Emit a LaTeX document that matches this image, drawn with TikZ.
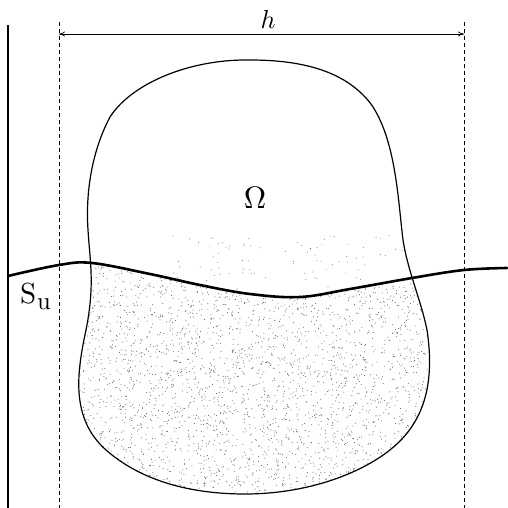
\documentclass[tikz,border=0pt]{standalone}
\usepackage{graphicx}
\usetikzlibrary{arrows.meta}
\tikzset{
  outline/.style={line width=1.2pt, line join=round},
  interface/.style={line width=2.6pt, line cap=round},
  guide/.style={line width=0.9pt, dash pattern=on 4pt off 3pt},
  wall/.style={line width=1.1pt},
  dimline/.style={line width=0.7pt, {To[length=6pt,width=5pt]}-{To[length=6pt,width=5pt]}},
  stip/.style={fill=black!65},
  lbl/.style={inner sep=0pt, anchor=base}
}
\begin{document}
\begin{tikzpicture}[x=1pt,y=-1pt]
\useasboundingbox (0,0) rectangle (507,508);
\def\shapepath{(250,60) .. controls (190,59) and (132,83) .. (110,117)
 .. controls (95,145) and (85,185) .. (88,230)
 .. controls (90,262) and (95,285) .. (86,330)
 .. controls (77,372) and (70,418) .. (106,450)
 .. controls (146,485) and (200,494) .. (245,494)
 .. controls (312,494) and (372,470) .. (401,440)
 .. controls (430,410) and (433,370) .. (427,330)
 .. controls (421,300) and (408,272) .. (403,240)
 .. controls (398,200) and (396,140) .. (371,104)
 .. controls (345,70) and (300,60) .. (250,60) -- cycle}
\def\curvepath{plot[smooth, tension=0.6] coordinates {
 (8,276) (59,265) (92,263) (150,274) (200,285) (250,294) (300,297) (350,289)
 (412,278) (464,270) (507,268)}}
% stippled region below interface
\begin{scope}
  \clip \shapepath;
  \clip \curvepath -- (507,508) -- (8,508) -- cycle;
  \pgfmathsetseed{7}
  \foreach \i in {1,...,3600}{
    \pgfmathsetmacro\px{70+rnd*370}
    \pgfmathsetmacro\py{255+rnd*245}
    \fill[stip] (\px,\py) circle (0.5pt);
  }
\end{scope}
% sparse dots above interface
\begin{scope}
  \clip \shapepath;
  \pgfmathsetseed{11}
  \foreach \i in {1,...,90}{
    \pgfmathsetmacro\px{170+rnd*240}
    \pgfmathsetmacro\py{235+rnd*55}
    \fill[stip] (\px,\py) circle (0.45pt);
  }
\end{scope}
% guides
\coordinate (wt) at (8,25);
\coordinate (wb) at (8,508);
\coordinate (lt) at (59,22);
\coordinate (lb) at (59,508);
\coordinate (rt) at (464,22);
\coordinate (rb) at (464,508);
\draw[wall] (wt) -- (wb);
\draw[guide] (lt) -- (lb);
\draw[guide] (rt) -- (rb);
\coordinate (hl) at (59,34);
\coordinate (hr) at (464,34);
\draw[dimline] (hl) -- (hr);
\node[lbl] (hlab) at (268,29) {\scalebox{2.6}{$h$}};
% body
\draw[outline] \shapepath;
\draw[interface] \curvepath;
\node[lbl] (om) at (255,208) {\scalebox{3.1}{$\Omega$}};
\node[lbl, anchor=base west] (su) at (20,303) {\scalebox{2.9}{S\kern0.3pt\raisebox{-2.2pt}{\scalebox{0.85}{u}}}};
\end{tikzpicture}
\end{document}
